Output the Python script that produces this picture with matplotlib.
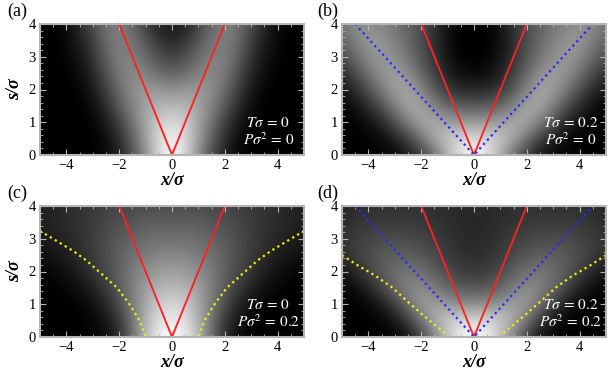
import numpy as np
import matplotlib.pyplot as plt
from matplotlib.ticker import MultipleLocator

plt.rcParams.update({
    'font.family': 'Liberation Serif',
    'mathtext.fontset': 'stix',
    'font.size': 10,
})

# grey level of the density (0 black, 1 white), x = -5..0 step 0.5, rows s = 0..4 step 0.5
gray_a = [
    [0, 0, 0, 0, 0, 0.03, 0.12, 0.30, 0.55, 0.85, 1.00],
    [0, 0, 0, 0, 0, 0.05, 0.18, 0.38, 0.62, 0.85, 0.95],
    [0, 0, 0, 0, 0.02, 0.10, 0.25, 0.45, 0.65, 0.80, 0.85],
    [0, 0, 0, 0, 0.05, 0.18, 0.35, 0.52, 0.65, 0.70, 0.72],
    [0, 0, 0, 0.02, 0.10, 0.25, 0.42, 0.55, 0.60, 0.58, 0.55],
    [0, 0, 0, 0.05, 0.15, 0.32, 0.48, 0.55, 0.50, 0.42, 0.38],
    [0, 0, 0.02, 0.08, 0.20, 0.38, 0.50, 0.50, 0.42, 0.30, 0.25],
    [0, 0, 0.03, 0.12, 0.25, 0.42, 0.50, 0.45, 0.33, 0.20, 0.15],
    [0, 0.01, 0.05, 0.15, 0.30, 0.45, 0.50, 0.40, 0.25, 0.12, 0.08],
]
gray_b = [
    [0, 0, 0, 0.01, 0.03, 0.10, 0.22, 0.42, 0.68, 0.90, 1.00],
    [0, 0, 0.01, 0.04, 0.12, 0.25, 0.45, 0.65, 0.78, 0.85, 0.85],
    [0, 0.01, 0.06, 0.15, 0.32, 0.50, 0.65, 0.68, 0.62, 0.60, 0.60],
    [0.02, 0.06, 0.18, 0.32, 0.50, 0.65, 0.65, 0.50, 0.40, 0.35, 0.35],
    [0.08, 0.18, 0.32, 0.48, 0.62, 0.65, 0.52, 0.35, 0.22, 0.15, 0.15],
    [0.18, 0.30, 0.45, 0.58, 0.62, 0.55, 0.40, 0.25, 0.12, 0.05, 0.03],
    [0.30, 0.42, 0.55, 0.60, 0.55, 0.45, 0.33, 0.20, 0.08, 0.01, 0],
    [0.40, 0.50, 0.60, 0.58, 0.50, 0.40, 0.30, 0.18, 0.05, 0, 0],
    [0.45, 0.55, 0.55, 0.50, 0.45, 0.38, 0.30, 0.20, 0.08, 0, 0],
]
gray_c = [
    [0, 0, 0, 0, 0.01, 0.05, 0.18, 0.42, 0.72, 0.93, 1.00],
    [0, 0, 0, 0, 0.02, 0.08, 0.22, 0.45, 0.70, 0.88, 0.93],
    [0, 0, 0, 0.02, 0.06, 0.15, 0.30, 0.48, 0.66, 0.80, 0.84],
    [0, 0.01, 0.02, 0.06, 0.13, 0.23, 0.36, 0.50, 0.62, 0.70, 0.72],
    [0.01, 0.03, 0.07, 0.12, 0.20, 0.29, 0.38, 0.48, 0.56, 0.61, 0.62],
    [0.05, 0.08, 0.12, 0.17, 0.23, 0.30, 0.38, 0.44, 0.49, 0.52, 0.53],
    [0.10, 0.12, 0.15, 0.19, 0.24, 0.30, 0.35, 0.39, 0.42, 0.44, 0.44],
    [0.12, 0.14, 0.17, 0.20, 0.24, 0.28, 0.31, 0.34, 0.36, 0.37, 0.37],
    [0.13, 0.15, 0.17, 0.20, 0.22, 0.25, 0.27, 0.28, 0.30, 0.30, 0.30],
]
gray_d = [
    [0, 0, 0, 0, 0.02, 0.08, 0.25, 0.50, 0.75, 0.95, 1.00],
    [0, 0, 0, 0.02, 0.08, 0.22, 0.45, 0.67, 0.80, 0.85, 0.86],
    [0, 0, 0.03, 0.10, 0.25, 0.45, 0.60, 0.63, 0.58, 0.55, 0.55],
    [0.01, 0.05, 0.14, 0.27, 0.42, 0.52, 0.55, 0.48, 0.40, 0.35, 0.34],
    [0.08, 0.16, 0.26, 0.36, 0.43, 0.46, 0.44, 0.37, 0.29, 0.24, 0.22],
    [0.18, 0.24, 0.30, 0.35, 0.37, 0.37, 0.34, 0.29, 0.23, 0.19, 0.18],
    [0.20, 0.24, 0.27, 0.29, 0.30, 0.29, 0.27, 0.24, 0.20, 0.17, 0.16],
    [0.17, 0.20, 0.22, 0.23, 0.23, 0.23, 0.22, 0.20, 0.18, 0.16, 0.15],
    [0.15, 0.17, 0.18, 0.19, 0.19, 0.19, 0.19, 0.18, 0.17, 0.16, 0.16],
]

# lines
red_x = [-2, 0, 2]
red_s = [4, 0, 4]
blue_x = [-4.5, 0, 4.5]
blue_s = [4, 0, 4]
# left branch of the yellow curves (the right branch is the mirror image)
yellow_c_x = [-5, -4.3, -3.73, -3.23, -2.66, -2.09, -1.65, -1.33, -1.15, -1.0]
yellow_c_s = [3.24, 2.9, 2.62, 2.33, 1.92, 1.51, 1.05, 0.64, 0.35, 0]
yellow_d_x = [-5, -4.37, -3.73, -3.1, -2.47, -1.96, -1.52, -1.2, -1.0]
yellow_d_s = [2.5, 2.17, 1.87, 1.51, 1.05, 0.69, 0.39, 0.18, 0]

panels = [
    ('(a)', gray_a, '0', '0', False, False),
    ('(b)', gray_b, '0.2', '0', True, False),
    ('(c)', gray_c, '0', '0.2', False, True),
    ('(d)', gray_d, '0.2', '0.2', True, True),
]

fig = plt.figure(figsize=(6.15, 3.8), dpi=100)
boxes = [(40, 24), (342, 24), (40, 206), (342, 206)]
label_x = [7, 317, 7, 317]
frame_col = '#b4b4b4'

for (lab, g, T, P, blue, yellow), (px, py), lx in zip(panels, boxes, label_x):
    ax = fig.add_axes([px / 615, (380 - py - 131) / 380, 264 / 615, 131 / 380])
    half = np.array(g)
    full = np.hstack([half, half[:, -2::-1]])
    ax.imshow(full, cmap='gray', vmin=0, vmax=1, origin='lower',
              extent=[-5.25, 5.25, -0.25, 4.25], aspect='auto',
              interpolation='bicubic')
    ax.plot(red_x, red_s, color='#ff2020', lw=1.35)
    if blue:
        ax.plot(blue_x, blue_s, color='#2828ff', lw=1.6, ls=(0, (1, 1.6)))
    if yellow:
        yx = yellow_c_x if lab == '(c)' else yellow_d_x
        ys = yellow_c_s if lab == '(c)' else yellow_d_s
        ax.plot(yx, ys, color='#eeee10', lw=1.6, ls=(0, (1, 1.6)))
        ax.plot([-v for v in yx], ys, color='#eeee10', lw=1.6, ls=(0, (1, 1.6)))
    ax.set_xlim(-5, 5)
    ax.set_ylim(0, 4)
    ax.xaxis.set_major_locator(MultipleLocator(2))
    ax.xaxis.set_minor_locator(MultipleLocator(0.5))
    ax.yaxis.set_major_locator(MultipleLocator(1))
    ax.yaxis.set_minor_locator(MultipleLocator(0.2))
    ax.tick_params(which='both', direction='in', top=True, right=True,
                   color=frame_col, labelsize=10.5, pad=3)
    ax.tick_params(which='major', length=4)
    ax.tick_params(which='minor', length=2)
    ax.set_xticklabels([f'{int(t)}'.replace('-', '\u2212') for t in ax.get_xticks()])
    for sp in ax.spines.values():
        sp.set_color(frame_col)
        sp.set_linewidth(1.5)
    ax.set_xlabel('x/σ', fontsize=13, style='italic', fontweight='bold', labelpad=0)
    if px < 100:
        ax.set_ylabel('s/σ', fontsize=13, style='italic', fontweight='bold', labelpad=4)
    ax.text(3.65, 0.97, rf'$T\sigma\,=\,{T}$', color='white', fontsize=11,
            ha='center', va='center')
    ax.text(3.65, 0.48, rf'$P\sigma^2\,=\,{P}$', color='white', fontsize=11,
            ha='center', va='center')
    fig.text(lx / 615, 1 - (py - 13) / 380, lab, fontsize=13,
             ha='left', va='center')

fig.savefig('out.png', dpi=100)
